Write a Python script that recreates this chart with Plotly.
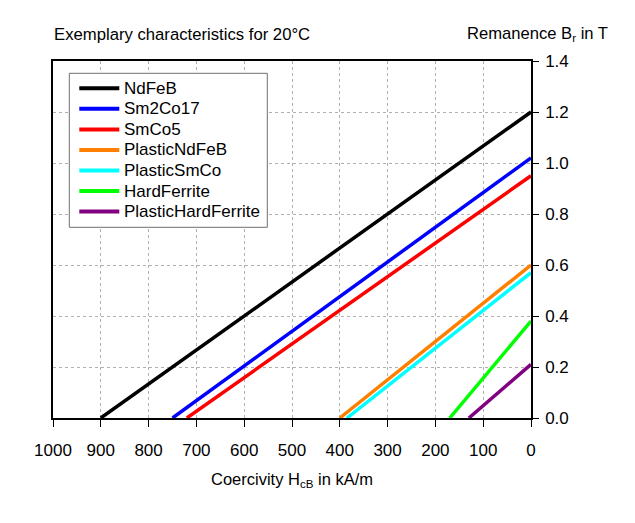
import plotly.graph_objects as go

materials = ["NdFeB", "Sm2Co17", "SmCo5", "PlasticNdFeB", "PlasticSmCo", "HardFerrite", "PlasticHardFerrite"]
coercivity = [900, 750, 720, 400, 385, 170, 130]   # kA/m
remanence = [1.20, 1.02, 0.95, 0.60, 0.57, 0.38, 0.21]  # T
colors = ["#000000", "#0000ff", "#ff0000", "#ff8000", "#00ffff", "#00ff00", "#800080"]

x_ticks = [1000, 900, 800, 700, 600, 500, 400, 300, 200, 100, 0]
y_ticks = [0.0, 0.2, 0.4, 0.6, 0.8, 1.0, 1.2, 1.4]

fig = go.Figure()
for name, hc, br, c in zip(materials, coercivity, remanence, colors):
    fig.add_trace(go.Scatter(x=[hc, 0], y=[0, br], mode="lines", name=name,
                             line=dict(color=c, width=3.5), showlegend=False))

font = "Liberation Sans, Arial, sans-serif"
fig.update_layout(
    width=635, height=523,
    paper_bgcolor="white", plot_bgcolor="white",
    margin=dict(l=45, r=112, t=53, b=113, autoexpand=False),
    font=dict(family=font, size=17, color="black"),
    showlegend=False,
)
fig.update_xaxes(range=[1000, 0], tickvals=x_ticks, ticktext=[str(v) for v in x_ticks],
                 showgrid=True, gridcolor="#b0b0b0", griddash="dot", gridwidth=1,
                 showline=True, linecolor="black", linewidth=1.5, mirror=True,
                 ticks="outside", ticklen=7, tickcolor="black", zeroline=False,
                 ticklabelstandoff=9, tickfont=dict(size=17),
                 title=dict(text="Coercivity H<sub>cB</sub> in kA/m", standoff=14,
                            font=dict(size=16.5)))
fig.update_yaxes(range=[0, 1.4], tickvals=y_ticks, ticktext=[f"{v:.1f}" for v in y_ticks],
                 side="right", showgrid=True, gridcolor="#b0b0b0", griddash="dot", gridwidth=1,
                 showline=True, linecolor="black", linewidth=1.5, mirror=True,
                 ticks="outside", ticklen=6, tickcolor="black", zeroline=False,
                 ticklabelstandoff=3, tickfont=dict(size=17))

# pixel (screen) -> paper coordinate helpers for the legend box
def px(sx):
    return (sx - 53) / 478.0

def py(sy):
    return (418 - sy) / 357.0

shapes = [dict(type="rect", xref="paper", yref="paper", layer="above",
               x0=px(69.3), x1=px(267.3), y0=py(73.3), y1=py(227.3),
               line=dict(color="#707070", width=1), fillcolor="white")]
row0, drow = 88.3, 20.55
for i, (name, c) in enumerate(zip(materials, colors)):
    yy = py(row0 + i * drow)
    shapes.append(dict(type="line", xref="paper", yref="paper", layer="above",
                       x0=px(79.3), x1=px(119.3), y0=yy, y1=yy,
                       line=dict(color=c, width=4)))
    fig.add_annotation(text=name, xref="paper", yref="paper", x=px(122), y=yy,
                       xanchor="left", yanchor="middle", showarrow=False,
                       font=dict(size=17))
fig.update_layout(shapes=shapes)

fig.add_annotation(text="Exemplary characteristics for 20°C", xref="paper", yref="paper",
                   x=px(52), y=py(34), xanchor="left", yanchor="middle",
                   showarrow=False, font=dict(size=16.7))
fig.add_annotation(text="Remanence B<sub>r</sub> in T", xref="paper", yref="paper",
                   x=px(610), y=py(34), xanchor="right", yanchor="middle",
                   showarrow=False, font=dict(size=16.6))
fig.write_html("out.html")
